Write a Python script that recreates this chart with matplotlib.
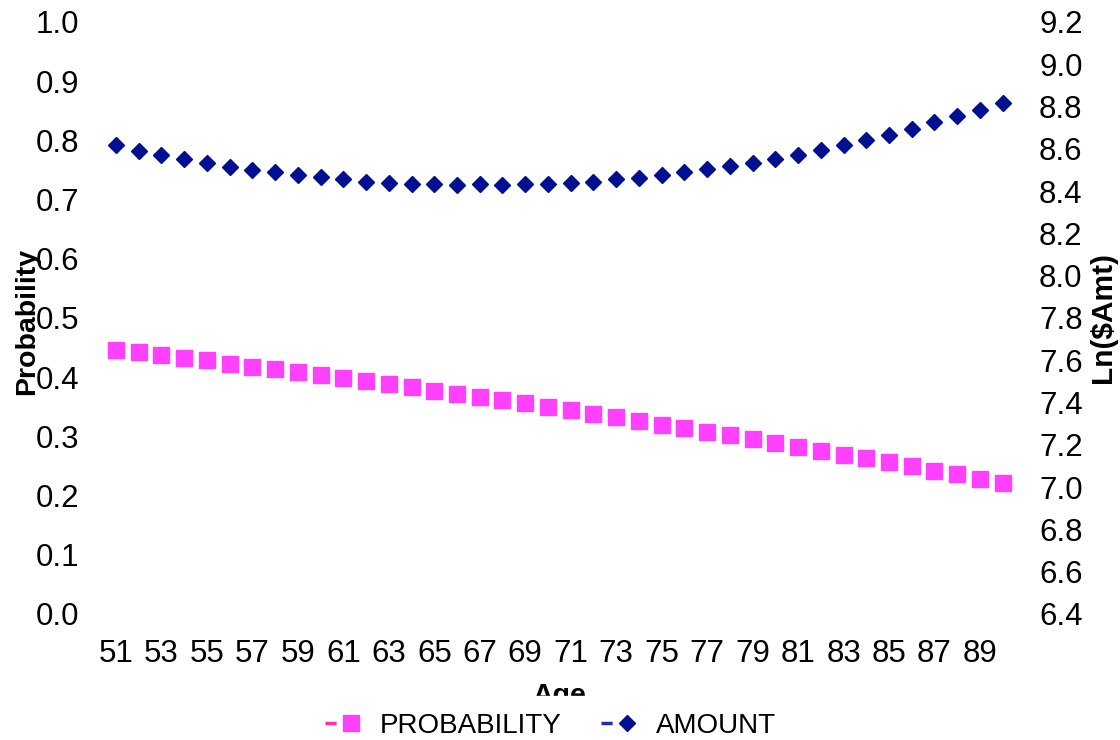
import numpy as np
import matplotlib.pyplot as plt
from matplotlib.lines import Line2D
from matplotlib.legend_handler import HandlerTuple

plt.rcParams['font.family'] = ['Liberation Sans', 'DejaVu Sans']

ages = list(range(51, 91))
probability = [0.446, 0.443, 0.437, 0.432, 0.429, 0.422, 0.418, 0.413, 0.409, 0.403,
               0.398, 0.394, 0.389, 0.383, 0.377, 0.372, 0.367, 0.361, 0.356, 0.349,
               0.344, 0.338, 0.332, 0.326, 0.320, 0.314, 0.307, 0.302, 0.295, 0.289,
               0.282, 0.275, 0.269, 0.263, 0.256, 0.250, 0.242, 0.236, 0.228, 0.222]
amount = [8.618, 8.591, 8.572, 8.553, 8.535, 8.516, 8.500, 8.489, 8.478, 8.465,
          8.456, 8.445, 8.438, 8.434, 8.432, 8.430, 8.434, 8.430, 8.432, 8.435,
          8.440, 8.445, 8.456, 8.462, 8.476, 8.489, 8.505, 8.519, 8.533, 8.552,
          8.572, 8.593, 8.618, 8.640, 8.664, 8.692, 8.726, 8.755, 8.784, 8.815]

pink = '#ff40ff'
pink_line = '#ff3399'
blue = '#001090'
blue_line = '#2030b0'

fig = plt.figure(figsize=(11.2, 7.4), dpi=100)
ax = fig.add_axes([0.0934, 0.1703, 0.812, 0.80])
ax2 = ax.twinx()

ax.plot(ages, probability, ls='none', marker='s', ms=11, color=pink)
ax2.plot(ages, amount, ls='none', marker='D', ms=8.5, color=blue)

ax.set_xlim(50.5, 90.5)
ax.set_ylim(0, 1.0)
ax2.set_ylim(6.4, 9.2)
ax.set_xticks(ages[::2])
ax.set_yticks(np.arange(0, 1.01, 0.1))
ax.set_yticklabels(['%.1f' % v for v in np.arange(0, 1.01, 0.1)])
ax2.set_yticks(np.arange(6.4, 9.21, 0.2))
ax2.set_yticklabels(['%.1f' % v for v in np.arange(6.4, 9.21, 0.2)])

for a in (ax, ax2):
    for s in a.spines.values():
        s.set_visible(False)
ax.tick_params(axis='both', length=0, labelsize=22.5, pad=18)
ax.tick_params(axis='x', pad=18)
ax2.tick_params(axis='y', length=0, labelsize=22.5, pad=18)

ax.set_xlabel('Age', fontsize=20.5, fontweight='bold', labelpad=10)
ax.set_ylabel('Probability', fontsize=20.5, fontweight='bold')
ax.yaxis.set_label_coords(-0.071, 0.495)
ax2.set_ylabel('Ln($Amt)', fontsize=21.5, fontweight='bold', rotation=90)
ax2.yaxis.set_label_coords(1.082, 0.50)

h1 = (Line2D([], [], color=pink_line, lw=2.5, ls=(0, (3.2, 20))),
      Line2D([], [], ls='none', marker='s', ms=11, color=pink))
h2 = (Line2D([], [], color=blue_line, lw=2.5, ls=(0, (3.2, 20))),
      Line2D([], [], ls='none', marker='D', ms=8.5, color=blue))
leg = fig.legend([h1, h2], ['PROBABILITY', 'AMOUNT'], loc='lower center',
                 bbox_to_anchor=(0.4915, -0.040), ncol=2, frameon=True, fontsize=20,
                 handler_map={tuple: HandlerTuple(ndivide=None, pad=0.2)},
                 handlelength=1.15, columnspacing=1.45, handletextpad=0.8,
                 borderpad=0.6)
leg.get_frame().set_facecolor('white')
leg.get_frame().set_edgecolor('white')
leg.get_frame().set_alpha(1)

fig.savefig('out.png', dpi=100)
